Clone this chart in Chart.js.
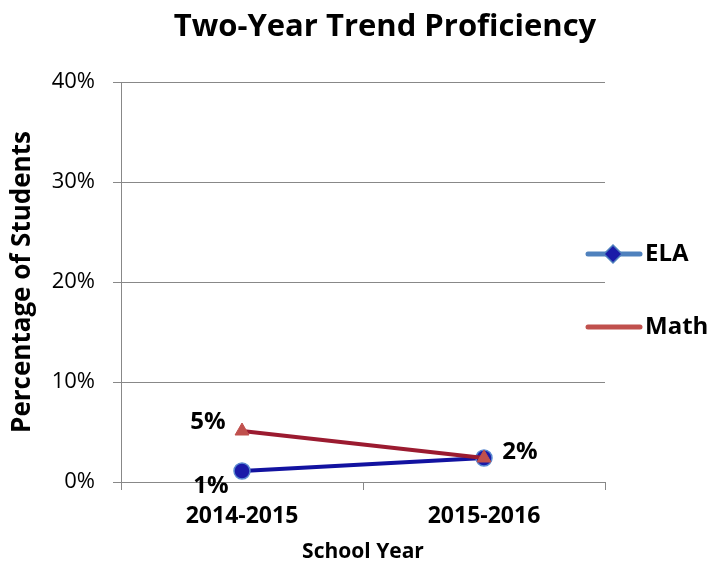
<!DOCTYPE html>
<html>
<head>
<meta charset="utf-8">
<script src="https://cdn.jsdelivr.net/npm/chart.js@4"></script>
<style>
  html, body { margin: 0; padding: 0; background: #fff; }
  #wrap { width: 717px; height: 569px; }
</style>
</head>
<body>
<div id="wrap"><canvas id="myChart"></canvas></div>
<script>
// data
const years = ['2014-2015', '2015-2016'];
const elaValues = [1.1, 2.4];
const mathValues = [5.1, 2.4];
const elaLabels = ['1%', ''];
const mathLabels = ['5%', '2%'];
const yTicks = [0, 10, 20, 30, 40];

const FONT = '"Open Sans", sans-serif';

// title, drawn by hand so it can sit right of the canvas centre like the original
const topTitle = {
    id: 'topTitle',
    afterDraw(chart) {
        const ctx = chart.ctx;
        ctx.save();
        ctx.font = 'bold 31px ' + FONT;
        ctx.fillStyle = '#000';
        ctx.textAlign = 'center';
        ctx.textBaseline = 'middle';
        ctx.fillText('Two-Year Trend Proficiency', 385, 27);
        ctx.restore();
    }
};

// labels next to the points
const pointLabels = {
    id: 'pointLabels',
    afterDatasetsDraw(chart) {
        const ctx = chart.ctx;
        const offsets = [
            [[-31, 15], [0, 0]],
            [[-34, -9], [36, -6]]
        ];
        const texts = [elaLabels, mathLabels];
        ctx.save();
        ctx.font = 'bold 24px ' + FONT;
        ctx.fillStyle = '#000';
        ctx.textAlign = 'center';
        ctx.textBaseline = 'middle';
        chart.data.datasets.forEach((ds, i) => {
            chart.getDatasetMeta(i).data.forEach((pt, j) => {
                const t = texts[i][j];
                if (!t) return;
                ctx.fillText(t, pt.x + offsets[i][j][0], pt.y + offsets[i][j][1]);
            });
        });
        ctx.restore();
    }
};

// legend on the right, line with marker like the original
const sideLegend = {
    id: 'sideLegend',
    afterDraw(chart) {
        const ctx = chart.ctx;
        ctx.save();
        ctx.lineCap = 'round';
        // ELA
        ctx.strokeStyle = '#4f81bd';
        ctx.lineWidth = 5;
        ctx.beginPath();
        ctx.moveTo(588, 254);
        ctx.lineTo(640, 254);
        ctx.stroke();
        ctx.fillStyle = '#1a1aa8';
        ctx.lineWidth = 1.5;
        ctx.beginPath();
        ctx.moveTo(613, 245);
        ctx.lineTo(622, 254);
        ctx.lineTo(613, 263);
        ctx.lineTo(604, 254);
        ctx.closePath();
        ctx.fill();
        ctx.stroke();
        // Math
        ctx.strokeStyle = '#c0504d';
        ctx.lineWidth = 5;
        ctx.beginPath();
        ctx.moveTo(588, 327);
        ctx.lineTo(640, 327);
        ctx.stroke();
        ctx.font = 'bold 24px ' + FONT;
        ctx.fillStyle = '#000';
        ctx.textBaseline = 'middle';
        ctx.fillText('ELA', 645, 254);
        ctx.fillText('Math', 645, 327);
        ctx.restore();
    }
};

const ctx = document.getElementById('myChart').getContext('2d');
const myChart = new Chart(ctx, {
    type: 'line',
    data: {
        labels: years,
        datasets: [{
            label: 'ELA',
            data: elaValues,
            order: 2,
            borderColor: '#1212a0',
            borderWidth: 4,
            pointStyle: 'circle',
            pointRadius: 8,
            pointBackgroundColor: '#1a1aa8',
            pointBorderColor: '#5a8ad0',
            pointBorderWidth: 1.5
        }, {
            label: 'Math',
            data: mathValues,
            order: 1,
            borderColor: '#9b1b30',
            borderWidth: 4,
            pointStyle: 'triangle',
            pointRadius: 8,
            pointBackgroundColor: '#c0504d',
            pointBorderColor: '#c0504d',
            pointBorderWidth: 1
        }]
    },
    options: {
        responsive: true,
        maintainAspectRatio: false,
        animation: false,
        layout: { padding: { left: 7, right: 112, top: 82, bottom: 4 } },
        plugins: {
            legend: { display: false },
            tooltip: { enabled: false },
            title: { display: false }
        },
        scales: {
            x: {
                offset: true,
                afterFit(axis) { axis.height = 83; },
                grid: { offset: true, drawOnChartArea: false, color: '#888', tickLength: 8 },
                border: { color: '#888' },
                ticks: { color: '#000', font: { family: FONT, size: 23, weight: 'bold' }, padding: 13 },
                title: {
                    display: true,
                    text: 'School Year',
                    color: '#000',
                    font: { family: FONT, size: 21, weight: 'bold' },
                    padding: { top: 9, bottom: 0 }
                }
            },
            y: {
                min: 0,
                max: 40,
                afterFit(axis) { axis.width = 114; },
                afterBuildTicks(axis) { axis.ticks = yTicks.map(v => ({ value: v })); },
                grid: { color: '#888', tickLength: 8 },
                border: { color: '#888' },
                ticks: {
                    color: '#000',
                    font: { family: FONT, size: 22 },
                    padding: 18,
                    callback: v => v + '%'
                },
                title: {
                    display: true,
                    text: 'Percentage of Students',
                    color: '#000',
                    font: { family: FONT, size: 26, weight: 'bold' },
                    padding: { top: 0, bottom: 13 }
                }
            }
        }
    },
    plugins: [topTitle, pointLabels, sideLegend]
});
</script>
</body>
</html>
